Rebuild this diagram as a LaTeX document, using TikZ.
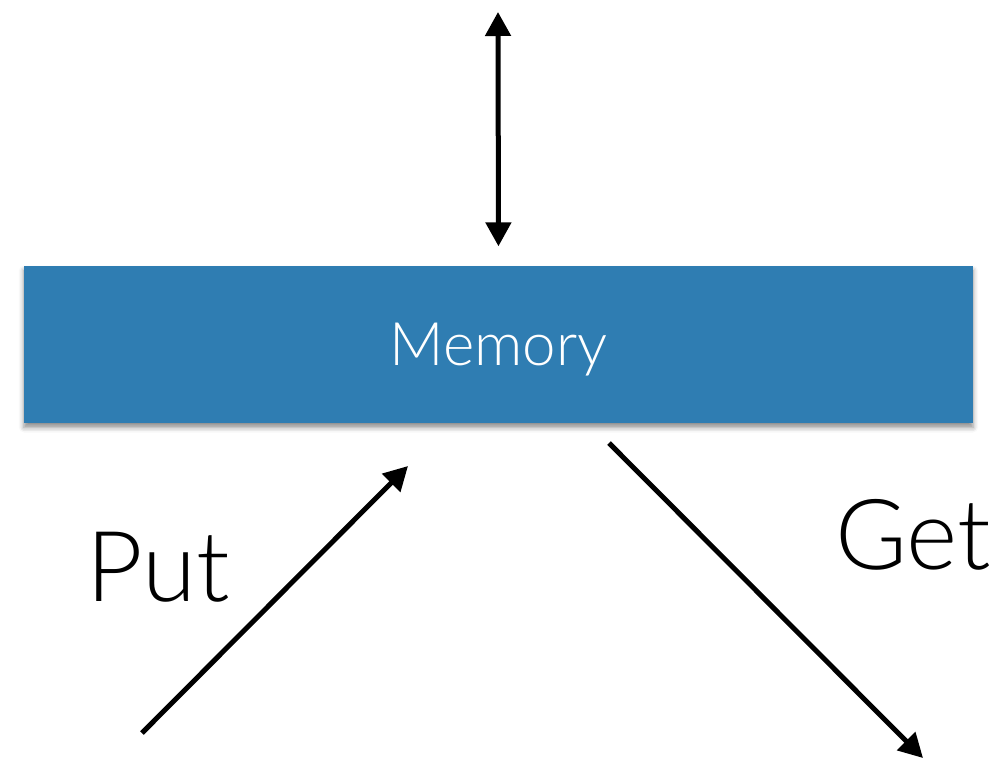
\documentclass[tikz,border=0pt]{standalone}
\usepackage{fontspec}
\setmainfont{TeX Gyre Heros}
\newfontfamily\lightfont{Lato}[UprightFont=* Light]
\usetikzlibrary{arrows.meta,shadows.blur}
\definecolor{memblue}{RGB}{47,125,178}
\tikzset{
  link/.style={line width=5bp, -{Triangle[length=24bp,width=25bp]}},
  both/.style={line width=5bp, {Triangle[length=24bp,width=25bp]}-{Triangle[length=24bp,width=25bp]}},
  memstore/.style={fill=memblue, draw=none, minimum width=949bp, minimum height=157bp,
    inner sep=0pt, text=white, font=\lightfont\fontsize{60bp}{60bp}\selectfont,
    text height=42bp, text depth=0pt,
    blur shadow={shadow xshift=0bp, shadow yshift=-5bp, shadow blur radius=5bp, shadow opacity=45}},
  bigword/.style={inner sep=0pt, anchor=base, font=\lightfont\fontsize{98bp}{98bp}\selectfont}
}
\begin{document}
\begin{tikzpicture}[x=1bp, y=-1bp]
  \useasboundingbox (0,0) rectangle (1007,759);
  % the shared memory block
  \node[memstore] (mem) at (498.5,344) {Memory};
  % channel above the memory
  \coordinate (above) at (498,12);
  \draw[both, shorten >=19bp] (above) -- (mem.north);
  % writer side
  \coordinate (putfrom) at (142,733);
  \coordinate (putto) at (408,466);
  \draw[link] (putfrom) -- (putto);
  \node[bigword] (put) at (158,601) {Put};
  % reader side
  \coordinate (getfrom) at (609,443);
  \coordinate (getto) at (923,758);
  \draw[link] (getfrom) -- (getto);
  \node[bigword] (get) at (913,569) {Get};
\end{tikzpicture}
\end{document}
